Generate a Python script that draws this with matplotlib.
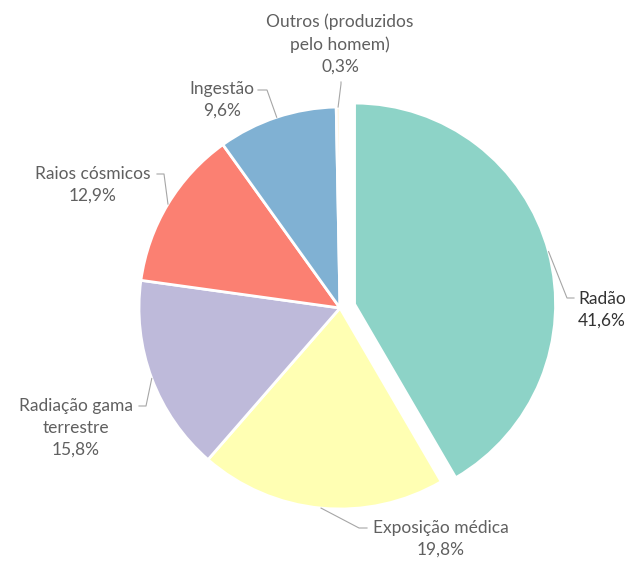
import numpy as np
import matplotlib.pyplot as plt

# data
labels = ['Radão', 'Exposição médica', 'Radiação gama\nterrestre',
          'Raios cósmicos', 'Ingestão', 'Outros (produzidos\npelo homem)']
values = [41.6, 19.8, 15.8, 12.9, 9.6, 0.3]
pct_text = ['41,6%', '19,8%', '15,8%', '12,9%', '9,6%', '0,3%']
colors = ['#8dd3c7', '#ffffb3', '#bebada', '#fb8072', '#80b1d3', '#fff3d6']
explode = [0.075, 0, 0, 0, 0, 0]

# layout in pixels (figure 630x562), pie centre and radius
W, H = 630, 562
CX, CY, R = 340, 308, 201


def px(x, y):
    return ((x - CX) / R, (CY - y) / R)


# label centre, leader start and elbow (pixels)
label_pos = [(602, 310), (441, 539), (76, 428), (93, 185), (222, 100), (340, 44)]
leader = [
    [(574, 298), (567, 298)],
    [(367, 528), (359, 528)],
    [(139, 406), (146, 406)],
    [(157, 174), (164, 174)],
    [(258, 90), (267, 90)],
    [(341, 82), (341, 84)],
]

fig = plt.figure(figsize=(W / 100, H / 100), dpi=100)
ax = fig.add_axes([0, 0, 1, 1])

wedges, _ = ax.pie(values, colors=colors, startangle=90, counterclock=False,
                   explode=explode, radius=1,
                   wedgeprops=dict(edgecolor='white', linewidth=2))
ax.set_aspect('auto')
ax.set_xlim(-CX / R, (W - CX) / R)
ax.set_ylim((CY - H) / R, CY / R)
ax.axis('off')

for i, w in enumerate(wedges):
    ang = np.deg2rad((w.theta1 + w.theta2) / 2)
    cx, cy = w.center
    edge = (cx + np.cos(ang) * w.r, cy + np.sin(ang) * w.r)
    p0 = px(*leader[i][0])
    p1 = px(*leader[i][1])
    ax.plot([p0[0], p1[0], edge[0]], [p0[1], p1[1], edge[1]],
            color='#a6a6a6', lw=0.8, solid_joinstyle='round')
    tx, ty = px(*label_pos[i])
    col = '#333333' if i == 0 else '#606060'
    ax.text(tx, ty, labels[i] + '\n' + pct_text[i], ha='center', va='center',
            fontsize=12.5, family='Lato', color=col, linespacing=1.45)

fig.savefig('out.png', dpi=100)
